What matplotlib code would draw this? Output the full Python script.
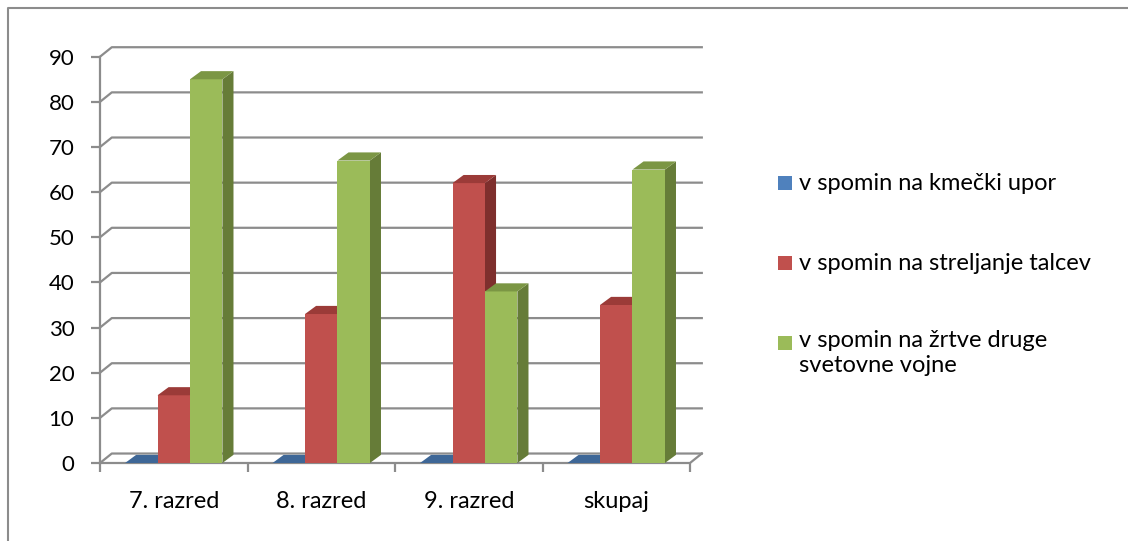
import numpy as np
import matplotlib.pyplot as plt
from matplotlib.patches import Polygon, Rectangle
from matplotlib.lines import Line2D

categories = ['7. razred', '8. razred', '9. razred', 'skupaj']
series_names = ['v spomin na kmečki upor',
                'v spomin na streljanje talcev',
                'v spomin na žrtve druge\nsvetovne vojne']
kmecki = [0, 0, 0, 0]
talci = [15, 33, 62, 35]
zrtve = [85, 67, 38, 65]
yticks = [0, 10, 20, 30, 40, 50, 60, 70, 80, 90]

front_cols = ['#4F81BD', '#C0504D', '#9BBB59']
top_cols = ['#3E6797', '#9B3B38', '#7B9644']
side_cols = ['#34577F', '#7E2F2D', '#667C38']
grid_col = '#8C8C8C'

plt.rcParams['font.family'] = ['Lato', 'DejaVu Sans']


def main():
    fig = plt.figure(figsize=(11.28, 5.41), dpi=100)
    W, H = 1128, 541
    ax = fig.add_axes([100 / W, (H - 463) / H, 590 / W, (463 - 56.7) / H])
    ax.set_xlim(-0.5, 3.5)
    ax.set_ylim(0, 90)

    # depth offsets (data units)
    wdx, wdy = 0.08, 2.1
    bdx, bdy = 0.075, 1.8

    # back wall gridlines + left wall diagonals
    for v in yticks:
        ax.plot([-0.5, -0.5 + wdx, 3.5 + wdx], [v, v + wdy, v + wdy],
                color=grid_col, lw=1.6, clip_on=False, zorder=1)
    # floor front edge and right diagonal
    ax.plot([-0.5, 3.5, 3.5 + wdx], [0, 0, wdy], color=grid_col, lw=1.6,
            clip_on=False, zorder=1)

    bw = 0.22
    gap = 0.17
    data = [kmecki, talci, zrtve]
    for i in range(len(categories)):
        for j in range(3):
            v = data[j][i]
            x0 = i - 0.5 + gap + j * bw
            x1 = x0 + bw
            if v > 0:
                ax.add_patch(Polygon([(x1, 0), (x1 + bdx, bdy), (x1 + bdx, v + bdy), (x1, v)],
                                     closed=True, fc=side_cols[j], ec='none',
                                     clip_on=False, zorder=2))
                ax.add_patch(Rectangle((x0, 0), bw, v, fc=front_cols[j], ec='none',
                                       clip_on=False, zorder=2))
            ax.add_patch(Polygon([(x0, v), (x1, v), (x1 + bdx, v + bdy), (x0 + bdx, v + bdy)],
                                 closed=True, fc=top_cols[j], ec='none',
                                 clip_on=False, zorder=2))

    for s in ['top', 'right', 'bottom']:
        ax.spines[s].set_visible(False)
    ax.spines['left'].set_color(grid_col)
    ax.spines['left'].set_linewidth(1.6)
    ax.set_facecolor('none')

    ax.set_yticks(yticks)
    ax.tick_params(axis='y', direction='out', length=6.5, width=1.6, color=grid_col,
                   pad=12, labelsize=16, labelcolor='black')
    ax.set_xticks(np.arange(-0.5, 4, 1))
    ax.set_xticklabels([])
    ax.set_xticks(np.arange(len(categories)), minor=True)
    ax.set_xticklabels(categories, minor=True)
    ax.tick_params(axis='x', which='major', direction='out', length=6.5, width=1.6,
                   color=grid_col)
    ax.tick_params(axis='x', which='minor', length=0, pad=20, labelsize=17)

    # legend drawn by hand
    ly = [183, 263, 343]
    for k in range(3):
        fig.patches.append(Rectangle((778 / W, (H - ly[k] - 7) / H), 14 / W, 14 / H,
                                     fc=front_cols[k], ec='none',
                                     transform=fig.transFigure, figure=fig))
        fig.text(799 / W, (H - ly[k]) / H, series_names[k], fontsize=17,
                 va='top' if '\n' in series_names[k] else 'center',
                 ha='left', linespacing=1.25)
    # fix vertical alignment of the wrapped label
    fig.texts[-1].set_y((H - ly[2] + 13) / H)

    # chart border
    fig.add_artist(Line2D([8 / W, 8 / W, 1.0], [0, (H - 7.5) / H, (H - 7.5) / H],
                          color='#8C8C8C', lw=1.5, transform=fig.transFigure))

    fig.savefig('out.png', dpi=100)


if __name__ == '__main__':
    main()
